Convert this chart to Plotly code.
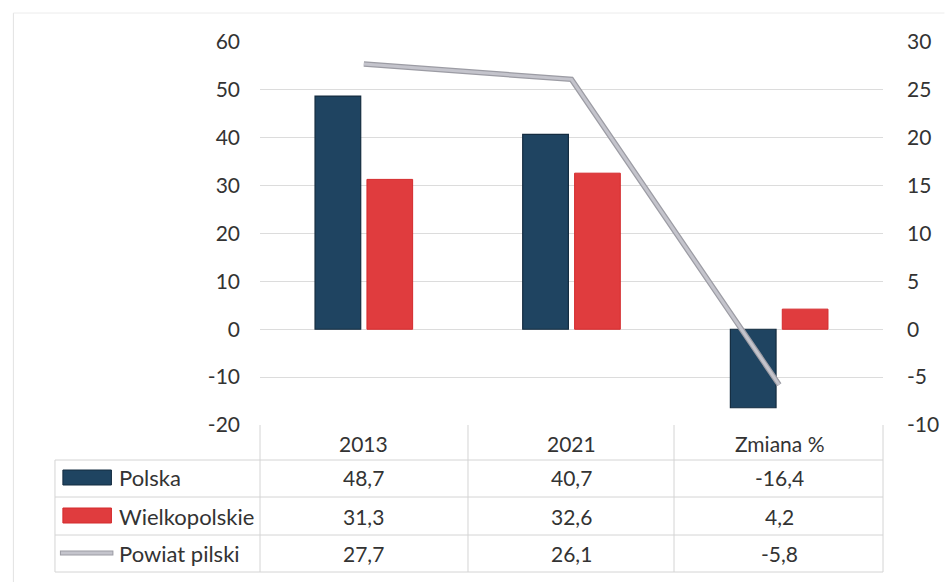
import plotly.graph_objects as go

categories = ["2013", "2021", "Zmiana %"]
polska = [48.7, 40.7, -16.4]
wielkopolskie = [31.3, 32.6, 4.2]
powiat = [27.7, 26.1, -5.8]
series_names = ["Polska", "Wielkopolskie", "Powiat pilski"]
left_ticks = [-20, -10, 0, 10, 20, 30, 40, 50, 60]
right_ticks = [-10, -5, 0, 5, 10, 15, 20, 25, 30]

W, H = 951, 582
L, R, T, B = 260, 889, 42, 425
FONT = "Lato"
TXT = "#333333"

idx = list(range(len(categories)))

def fmt(v):
    return f"{v:.1f}".replace(".", ",")

fig = go.Figure()
fig.add_trace(go.Bar(x=idx, y=polska, name=series_names[0],
                     marker=dict(color="#1f4461", line=dict(color="#142c40", width=1.2))))
fig.add_trace(go.Bar(x=idx, y=wielkopolskie, name=series_names[1],
                     marker=dict(color="#e03c3e", line=dict(color="#d42a2c", width=1))))
fig.add_trace(go.Scatter(x=idx, y=powiat, yaxis="y2", mode="lines",
                         line=dict(color="#9c9ca4", width=5.5), hoverinfo="skip"))
fig.add_trace(go.Scatter(x=idx, y=powiat, yaxis="y2", mode="lines", name=series_names[2],
                         line=dict(color="#c4c4cc", width=3)))

def px(xp):
    return (xp - L) / (R - L)

def py(yp):
    return (B - yp) / (B - T)

shapes = []
grid = "#d4d4d4"
for yy, x0 in [(460, 53), (497, 53), (535, 53), (572, 53)]:
    shapes.append(dict(type="line", xref="paper", yref="paper", x0=px(x0), x1=1,
                       y0=py(yy), y1=py(yy), line=dict(color=grid, width=1)))
for xx, y0 in [(53, 460), (260, 425), (470, 425), (678, 425), (889, 425)]:
    shapes.append(dict(type="line", xref="paper", yref="paper", x0=px(xx), x1=px(xx),
                       y0=py(y0), y1=py(572), line=dict(color=grid, width=1)))
shapes.append(dict(type="line", xref="paper", yref="paper", x0=px(11), x1=px(11),
                   y0=py(13), y1=py(582), line=dict(color="#e2e2e2", width=1)))
shapes.append(dict(type="line", xref="paper", yref="paper", x0=px(11), x1=px(951),
                   y0=py(13), y1=py(13), line=dict(color="#ececec", width=1)))
shapes.append(dict(type="rect", xref="paper", yref="paper", x0=px(61), x1=px(110),
                   y0=py(485), y1=py(470), fillcolor="#1f4461", line=dict(color="#142c40", width=1)))
shapes.append(dict(type="rect", xref="paper", yref="paper", x0=px(61), x1=px(110),
                   y0=py(523), y1=py(508), fillcolor="#e03c3e", line=dict(color="#d42a2c", width=1)))
shapes.append(dict(type="line", xref="paper", yref="paper", x0=px(58), x1=px(112),
                   y0=py(553), y1=py(553), line=dict(color="#9c9ca4", width=5)))
shapes.append(dict(type="line", xref="paper", yref="paper", x0=px(59), x1=px(111),
                   y0=py(553), y1=py(553), line=dict(color="#c4c4cc", width=3)))

annotations = []
row_y = [478, 516, 553]
for i, c in zip(idx, categories):
    annotations.append(dict(x=i, xref="x", y=py(443), yref="paper", text=c, showarrow=False,
                            font=dict(family=FONT, size=21, color=TXT), xanchor="center", yanchor="middle"))
for vals, yy, name in zip([polska, wielkopolskie, powiat], row_y, series_names):
    annotations.append(dict(x=px(116), xref="paper", y=py(yy), yref="paper", text=name, showarrow=False,
                            font=dict(family=FONT, size=22, color=TXT), xanchor="left", yanchor="middle"))
    for i, v in zip(idx, vals):
        annotations.append(dict(x=i, xref="x", y=py(yy), yref="paper", text=fmt(v), showarrow=False,
                                font=dict(family=FONT, size=21, color=TXT), xanchor="center", yanchor="middle"))

fig.update_layout(
    width=W, height=H, autosize=False,
    margin=dict(l=L, r=W - R, t=T, b=H - B, pad=0),
    paper_bgcolor="white", plot_bgcolor="white",
    barmode="group", bargap=0.5, bargroupgap=0.12,
    showlegend=False,
    xaxis=dict(range=[-0.5, len(categories) - 0.5], showticklabels=False, showgrid=False,
               zeroline=False, showline=False, ticks=""),
    yaxis=dict(range=[-20, 60], tickvals=left_ticks, ticktext=[str(t) for t in left_ticks],
               showgrid=True, gridcolor="#dcdcdc", gridwidth=1,
               zeroline=False, showline=False, ticks="", ticklabelstandoff=19,
               tickfont=dict(family=FONT, size=21, color=TXT)),
    yaxis2=dict(range=[-10, 30], tickvals=right_ticks, ticktext=[str(t) for t in right_ticks],
                overlaying="y", side="right", showgrid=False,
                zeroline=False, showline=False, ticks="", ticklabelstandoff=23,
                tickfont=dict(family=FONT, size=21, color=TXT)),
    shapes=shapes, annotations=annotations,
)

fig.write_html("out.html", config={"displayModeBar": False},
               post_script="document.body.style.margin='0';")
